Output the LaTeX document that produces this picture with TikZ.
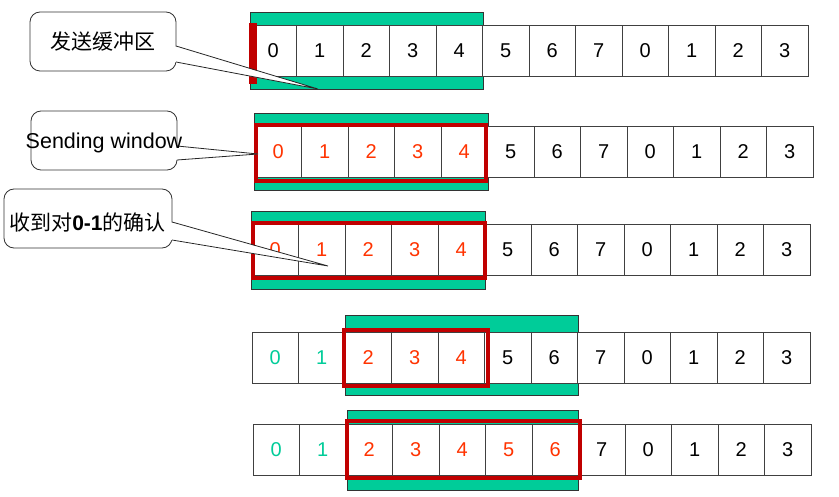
\documentclass[tikz,border=0pt]{standalone}
\usepackage{fontspec}
\setmainfont{Liberation Sans}
\newfontfamily\cjk{Noto Sans CJK SC}
\definecolor{grn}{RGB}{0,204,153}
\definecolor{wred}{RGB}{192,0,0}
\definecolor{dred}{RGB}{255,51,0}
\definecolor{tl}{RGB}{0,204,153}
\tikzset{
 cell/.style={draw=black!75, line width=0.8pt, fill=white, minimum width=46.5pt, minimum height=51pt, inner sep=0pt, font=\fontsize{20}{22}\selectfont},
 buf/.style={draw=black!80, fill=grn, line width=0.8pt},
 win/.style={draw=wred, line width=4pt},
 cbox/.style={draw=black!80, fill=white, rounded corners=10pt, line width=0.8pt, minimum height=59pt, inner sep=0pt},
 ctext/.style={inner sep=0pt, font=\fontsize{19}{20}\selectfont},
 wedge/.style={draw=black!85, line width=0.8pt}
}
\newcommand\mkrow[4]{%
 \foreach \cc/\dd [count=\ii from 0] in {#4} {
   \node[cell, text=\cc] (#1c\ii) at ({#2+46.5*\ii+23.25},#3) {\dd};
 }}
\begin{document}
\begin{tikzpicture}[x=1pt,y=-1pt]
\useasboundingbox (0,0) rectangle (839,497);
% buffers
\draw[buf] (250,12) rectangle (483,89);
\draw[buf] (254,113) rectangle (488,190);
\draw[buf] (251,211) rectangle (485,289);
\draw[buf] (345,315) rectangle (578,395);
\draw[buf] (347,410) rectangle (578,490);
% rows
\mkrow{a}{250}{50.5}{black/0,black/1,black/2,black/3,black/4,black/5,black/6,black/7,black/0,black/1,black/2,black/3}
\mkrow{b}{255}{151.5}{dred/0,dred/1,dred/2,dred/3,dred/4,black/5,black/6,black/7,black/0,black/1,black/2,black/3}
\mkrow{c}{252}{249.5}{dred/0,dred/1,dred/2,dred/3,dred/4,black/5,black/6,black/7,black/0,black/1,black/2,black/3}
\mkrow{d}{252}{358}{tl/0,tl/1,dred/2,dred/3,dred/4,black/5,black/6,black/7,black/0,black/1,black/2,black/3}
\mkrow{e}{253}{450}{tl/0,tl/1,dred/2,dred/3,dred/4,dred/5,dred/6,black/7,black/0,black/1,black/2,black/3}
% windows
\draw[draw=wred, line width=4pt] (250.5,25) rectangle (254.5,82);
\draw[win] (256,125) rectangle (486,181);
\draw[win] (253,223) rectangle (485,278);
\draw[win] (344,330) rectangle (488,386);
\draw[win] (347,421) rectangle (580,478);
% callout 1
\node[cbox, minimum width=146pt] (k1) at (103,41.5) {};
\node[ctext, font=\cjk\fontsize{21}{22}\selectfont] (t1) at (103,42) {发送缓冲区};
\coordinate (k1a) at (176,46); \coordinate (k1b) at (176,62); \coordinate (p1) at (318,89);
\fill[white] (174,46) -- (p1) -- (174,62) -- cycle;
\draw[wedge] (k1a) -- (p1) -- (k1b);
% callout 2
\node[cbox, minimum width=146pt] (k2) at (104,140.5) {};
\coordinate (k2a) at (177,146); \coordinate (k2b) at (177,160); \coordinate (p2) at (258,154);
\fill[white] (175,146) -- (p2) -- (175,160) -- cycle;
\draw[wedge] (k2a) -- (p2) -- (k2b);
\node[ctext, font=\fontsize{21.5}{23}\selectfont] (t2) at (104,143) {Sending window};
% callout 3
\node[cbox, minimum width=168pt] (k3) at (88,218.5) {};
\coordinate (k3a) at (172,222); \coordinate (k3b) at (172,240); \coordinate (p3) at (328,266);
\fill[white] (170,222) -- (p3) -- (170,240) -- cycle;
\draw[wedge] (k3a) -- (p3) -- (k3b);
\node[ctext, font=\fontsize{21}{22}\selectfont] (t3) at (87.5,222) {\cjk 收到对{\rmfamily\bfseries 0-1}的确认};
\end{tikzpicture}
\end{document}
